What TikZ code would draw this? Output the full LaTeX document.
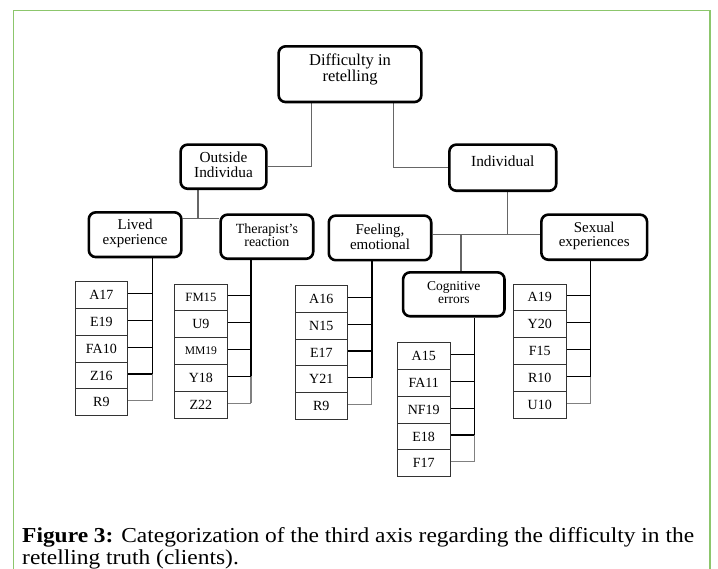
\documentclass[tikz,border=0pt]{standalone}
\usepackage{fontspec}
\setmainfont{Liberation Serif}
\newfontfamily\capfont[FakeStretch=1.1]{Liberation Serif}
\usetikzlibrary{backgrounds}
\definecolor{framegreen}{HTML}{8CC66C}
\newcommand\itsmall[1]{{\fontsize{12.6}{12}\selectfont #1}}
\newcommand\itxsmall[1]{{\fontsize{11.6}{12}\selectfont #1}}
\begin{document}
\begin{tikzpicture}[x=1pt,y=-1pt,
  catbox/.style={draw=black,line width=2.6pt,rounded corners=7pt,inner sep=0pt,fill=white},
  cattxt/.style={align=center,inner sep=0pt},
  item/.style={draw=black!80,line width=0.9pt,minimum width=52.6pt,minimum height=26.8pt,inner sep=0pt,fill=white,font=\fontsize{14}{14}\selectfont},
  conn/.style={draw=black!60,line width=1.4pt},
  lst/.style={draw=black,line width=1.6pt},
  tick/.style={draw=black,line width=1.2pt},
  lstg/.style={draw=black!50,line width=1.1pt},
  frameline/.style={draw=framegreen,line width=1.6pt}]
\useasboundingbox (0,0) rectangle (718,569);
\draw[frameline] (13.5,569) -- (13.5,10.7) -- (710,10.7) -- (710,569);

% category boxes
\node[catbox,minimum width=142.8pt,minimum height=55.7pt] (top) at (350,74.2) {};
\node[cattxt,font=\fontsize{16.5}{15.9}\selectfont] (topt) at (350,69.5) {Difficulty in\\retelling};
\node[catbox,minimum width=85.8pt,minimum height=44.1pt] (out) at (223.5,166.7) {};
\node[cattxt,font=\fontsize{15.3}{14.6}\selectfont] (outt) at (223.5,165) {Outside\\Individua};
\node[catbox,minimum width=106.9pt,minimum height=46.1pt] (ind) at (502.8,167.7) {};
\node[cattxt,font=\fontsize{15.4}{13.3}\selectfont] (indt) at (502.8,161.7) {Individual};
\node[catbox,minimum width=92.6pt,minimum height=44.7pt] (lived) at (135.1,234.7) {};
\node[cattxt,font=\fontsize{15}{15.3}\selectfont] (livedt) at (135.1,233.3) {Lived\\experience};
\node[catbox,minimum width=92.6pt,minimum height=44.1pt] (ther) at (266.9,236.7) {};
\node[cattxt,font=\fontsize{14}{12.2}\selectfont] (thert) at (266.9,235.5) {Therapist's\\reaction};
\node[catbox,minimum width=102.4pt,minimum height=44.6pt] (feel) at (380,237.9) {};
\node[cattxt,font=\fontsize{15}{14.4}\selectfont] (feelt) at (380,236.7) {Feeling,\\emotional};
\node[catbox,minimum width=101.4pt,minimum height=43.9pt] (cog) at (453.8,294.3) {};
\node[cattxt,font=\fontsize{13.5}{13}\selectfont] (cogt) at (453.8,292.5) {Cognitive\\errors};
\node[catbox,minimum width=105.7pt,minimum height=45.1pt] (sex) at (594.2,237.2) {};
\node[cattxt,font=\fontsize{15}{14.4}\selectfont] (sext) at (594.2,235.7) {Sexual\\experiences};

% item lists
\foreach \t [count=\i from 0] in {A17,E19,FA10,Z16,R9}
  \node[item] (L\i) at (101.4,{295.1+26.8*\i}) {\t};
\foreach \t [count=\i from 0] in {\itsmall{FM15},U9,\itxsmall{MM19},Y18,Z22}
  \node[item] (T\i) at (200.9,{297.4+26.8*\i}) {\t};
\foreach \t [count=\i from 0] in {A16,N15,E17,Y21,R9}
  \node[item] (F\i) at (321.3,{298.9+26.8*\i}) {\t};
\foreach \t [count=\i from 0] in {A15,FA11,NF19,E18,F17}
  \node[item] (C\i) at (423.7,{356.1+26.8*\i}) {\t};
\foreach \t [count=\i from 0] in {A19,Y20,F15,R10,U10}
  \node[item] (S\i) at (539.7,{297.4+26.8*\i}) {\t};

% junction coordinates
\coordinate (tl) at (311.7,166.7);
\coordinate (tr) at (393.3,166.7);
\coordinate (oj) at (198,218.5);
\coordinate (ij) at (507.5,234.3);
\coordinate (cj) at (461,234.3);
\coordinate (lvx) at (152.3,0);
\coordinate (tvx) at (251,0);
\coordinate (fvx) at (371.7,0);
\coordinate (cvx) at (474.3,0);
\coordinate (svx) at (590.5,0);

\begin{scope}[on background layer]
\draw[conn] (top.south -| tl) -- (tl) -- (out.east);
\draw[conn] (top.south -| tr) |- (ind.west);
\draw[conn] (out.south -| oj) -- (oj);
\draw[conn] (oj -| lived.east) -- (oj -| ther.west);
\draw[conn] (ind.south -| ij) -- (ij);
\draw[conn] (ij -| feel.east) -- (ij -| sex.west);
\draw[conn] (cj) -- (cj |- cog.north);
% list connectors
\foreach \c/\L/\v in {lived/L/lvx,ther/T/tvx,feel/F/fvx,cog/C/cvx,sex/S/svx}{
  \draw[lst] (\c.south -| \v) -- ([yshift=1.5pt]\L3.east -| \v);
  \draw[lstg] ([yshift=1.5pt]\L3.east -| \v) -- ([yshift=1.5pt]\L4.east -| \v);
  \foreach \i in {0,1,2,3}
    \draw[tick] ([yshift=1.5pt]\L\i.east) -- ([yshift=1.5pt]\L\i.east -| \v);
  \draw[lstg] ([yshift=1.5pt]\L4.east) -- ([yshift=1.5pt]\L4.east -| \v);
}
\end{scope}

% caption
\node[anchor=west,align=left,inner sep=0pt,font=\capfont\fontsize{21.3}{21.5}\selectfont] (cap) at (22,548.5)
  {\textbf{Figure 3:} Categorization of the third axis regarding the difficulty in the\\retelling truth (clients).};
\end{tikzpicture}
\end{document}
